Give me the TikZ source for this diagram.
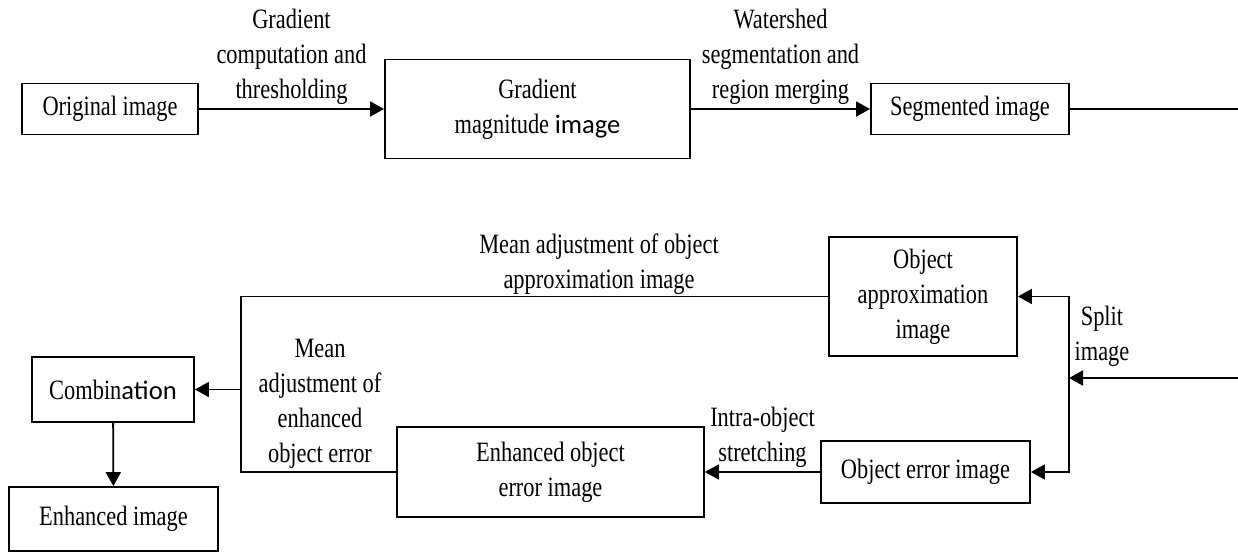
\documentclass[tikz,border=0pt]{standalone}
\usepackage{fontspec}
\setmainfont[FakeStretch=0.8]{Liberation Serif}
\newfontfamily\sansimg[Scale=0.95]{Carlito}
\usetikzlibrary{arrows.meta}

\begin{document}
\begin{tikzpicture}[x=0.5pt, y=-0.5pt, line width=0.9pt,
    >={Triangle[length=7pt,width=7.5pt]},
    font=\fontsize{14}{17.5}\selectfont,
    box/.style={draw, inner sep=0pt, align=center},
    lbl/.style={align=center, inner sep=2pt}]

    \useasboundingbox (0,0) rectangle (1238,552);

    % --- Top row: segmentation ---
    \node[box, minimum width=88pt, minimum height=25.5pt] (orig) at (110,109) {Original image};
    \node[box, minimum width=152.5pt, minimum height=49.5pt] (grad) at (537.5,109)
        {Gradient\\magnitude {\sansimg image}};
    \node[box, minimum width=99pt, minimum height=25.5pt] (seg) at (970,109) {Segmented image};
    \coordinate (segout) at (1238,109);

    \draw[->] (orig) -- node[lbl, above] (lblgrad) {Gradient\\computation and\\thresholding} (grad);
    \draw[->] (grad) -- node[lbl, above] (lblws) {Watershed\\segmentation and\\region merging} (seg);
    \draw (seg) -- (segout);

    % --- Lower part: split, stretch, combine ---
    \node[box, minimum width=94pt, minimum height=59.5pt] (approx) at (923,296.5)
        {Object\\approximation\\image};
    \node[box, minimum width=104.5pt, minimum height=31pt] (err) at (925.5,472) {Object error image};
    \node[box, minimum width=153.5pt, minimum height=45pt] (enherr) at (550.5,472)
        {Enhanced object\\error image};
    \node[box, minimum width=81pt, minimum height=32.5pt] (comb) at (113,389.5)
        {Combin{\sansimg ation}};
    \node[box, minimum width=104.5pt, minimum height=32pt] (enh) at (113.5,519) {Enhanced image};

    % split
    \coordinate (splitin) at (1238,378);
    \coordinate (splitx) at (1069,378);
    \draw[->] (splitin) -- (splitx);
    \draw[->] (splitx) |- (approx.east);
    \draw[->] (splitx) |- (err.east);
    \node[lbl] (lblsplit) at (1102,336) {Split\\image};

    % stretching of the error part
    \draw[->] (err) -- node[lbl, above] (lblstretch) {Intra-object\\stretching} (enherr);

    % both parts meet and go to the combination
    \coordinate (join) at (241,389.5);
    \draw (approx.west) -| (join);
    \draw (enherr.west) -| (join);
    \draw[->] (join) -- (comb.east);
    \draw[->] (comb) -- (enh);

    \node[lbl] (lblmeanapprox) at (599,264) {Mean adjustment of object\\approximation image};
    \node[lbl] (lblmeanerr) at (320,404) {Mean\\adjustment of\\enhanced\\object error};

\end{tikzpicture}
\end{document}
